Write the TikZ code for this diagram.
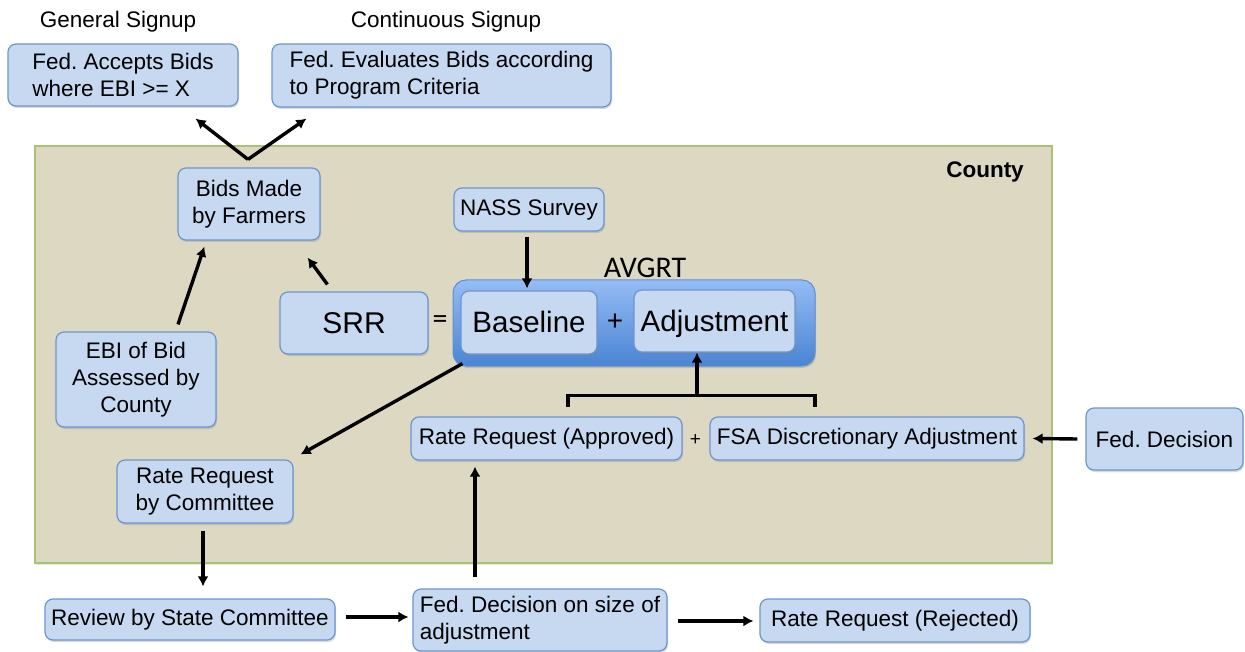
\documentclass[tikz,border=0pt]{standalone}
\usepackage{fontspec}
\setmainfont{Liberation Sans}
\newfontfamily\calfont{Carlito}
\usetikzlibrary{arrows.meta,calc,shadows}
\frenchspacing
\definecolor{boxfill}{HTML}{C6D9F1}
\definecolor{boxline}{HTML}{6D95CD}
\definecolor{countyfill}{HTML}{DDD8C2}
\definecolor{countyline}{HTML}{A6C471}
\definecolor{avtop}{HTML}{95BCF5}
\definecolor{avbot}{HTML}{4A84D3}
\definecolor{avline}{HTML}{5B8FD6}
\tikzset{
 bx/.style={draw=boxline, fill=boxfill, line width=1.2pt, rounded corners=8pt, inner sep=0pt,
   font=\fontsize{22.5}{27}\selectfont,
   drop shadow={shadow xshift=1pt, shadow yshift=-2pt, opacity=.3}},
 big/.style={font=\fontsize{29.5}{34}\selectfont, text height=21pt, text depth=0pt},
 arr/.style={line width=3.4pt, -{Latex[length=10pt,width=11pt]}},
 txt/.style={inner sep=0pt, font=\fontsize{22.5}{27}\selectfont},
}
\begin{document}
\begin{tikzpicture}[x=1pt,y=-1pt]
\useasboundingbox (0,0) rectangle (1245,652);
% top labels
\node[txt] (gen) at (118,22) {General Signup};
\node[txt] (cont) at (446,22) {Continuous Signup};
\node[bx, align=left, minimum width=230pt, minimum height=62pt] (fedacc) at (123,75) {Fed. Accepts Bids\\where EBI >= X};
\node[bx, align=left, minimum width=339pt, minimum height=63pt] (fedeval) at (441.5,75.5) {Fed. Evaluates Bids according\\to Program Criteria};
% county
\node[draw=countyline, fill=countyfill, line width=1.2pt, minimum width=1017pt, minimum height=417pt, inner sep=0pt,
  drop shadow={shadow xshift=1pt, shadow yshift=-2pt, opacity=.2}] (county) at (543.5,354.5) {};
\node[inner sep=0pt, font=\bfseries\fontsize{22.5}{27}\selectfont] (countylbl) at (985,172) {County};
% boxes inside
\node[bx, align=center, minimum width=142pt, minimum height=72pt] (bids) at (249,204) {Bids Made\\by Farmers};
\node[bx, minimum width=150pt, minimum height=43pt] (nass) at (529,209.5) {NASS Survey};
\node[draw=avline, top color=avtop, bottom color=avbot, line width=1pt, rounded corners=13pt, inner sep=0pt,
  minimum width=362pt, minimum height=86pt,
  drop shadow={shadow xshift=1pt, shadow yshift=-2pt, opacity=.3}] (avgrt) at (634,323) {};
\node[inner sep=0pt, font=\calfont\fontsize{30}{34}\selectfont] (avlbl) at (645,268) {AVGRT};
\node[bx, big, minimum width=136pt, minimum height=63pt] (base) at (529,322.5) {Baseline};
\node[bx, big, minimum width=161pt, minimum height=62pt] (adj) at (714.5,321) {Adjustment};
\node[bx, big, font=\fontsize{30}{34}\selectfont, minimum width=148pt, minimum height=62pt] (srr) at (354,323) {SRR};
\node[inner sep=0pt, font=\calfont\fontsize{30}{34}\selectfont] (eq) at (440,322) {=};
\node[inner sep=0pt, font=\calfont\fontsize{30}{34}\selectfont] (plusa) at (615,322) {+};
\node[bx, align=center, minimum width=160pt, minimum height=95pt] (ebi) at (136,379.5) {EBI of Bid\\Assessed by\\County};
\node[bx, minimum width=271pt, minimum height=43pt] (rra) at (546.5,438.5) {Rate Request (Approved)};
\node[txt, font=\fontsize{19}{22}\selectfont] (plusb) at (695.5,440) {+};
\node[bx, minimum width=314pt, minimum height=43pt] (fsa) at (867,438.5) {FSA Discretionary Adjustment};
\node[bx, minimum width=157pt, minimum height=62pt] (feddec) at (1164.5,439) {Fed. Decision};
\node[bx, align=center, minimum width=176pt, minimum height=63pt] (rrc) at (205,491.5) {Rate Request\\by Committee};
\node[bx, minimum width=290pt, minimum height=41pt] (review) at (190,619.5) {Review by State Committee};
\node[bx, align=left, minimum width=254pt, minimum height=62pt] (feddsz) at (540,620) {Fed. Decision on size of\\adjustment};
\node[bx, minimum width=270pt, minimum height=43pt] (rej) at (895,620.5) {Rate Request (Rejected)};
% connectors
\coordinate (apex) at ($(bids.north)+(-1,-8)$);
\draw[arr] (apex) -- ($(fedacc.south east)+(-43,12)$);
\draw[arr] (apex) -- ($(fedeval.south west)+(35,11)$);
\draw[arr] ($(ebi.north)+(42,-7)$) -- ($(bids.south west)+(27,6)$);
\draw[arr] ($(srr.north west)+(48,-7)$) -- ($(bids.south east)+(-13,17)$);
\draw[arr] ($(nass.south)+(-2,5)$) -- ($(base.north)+(-2,-2)$);
\draw[arr] ($(base.south west)+(2,9)$) -- ($(rrc.north east)+(7,-5)$);
\draw[line width=3.4pt] ($(rra.north)+(21.5,-9)$) |- ($(fsa.north)+(-52,-21)$) -- ($(fsa.north)+(-52,-9)$);
\coordinate (brm) at ($(rra.north)+(150.5,-21)$);
\draw[arr] (brm) -- ($(adj.south)+(-17.5,0)$);
\draw[arr] ($(feddec.west)+(-8,0)$) -- ($(fsa.east)+(8,0)$);
\draw[arr] ($(rrc.south)+(-2,7)$) -- ($(review.north)+(13,-12)$);
\draw[arr] ($(review.east)+(10,-2.5)$) -- ($(feddsz.west)+(-4,-3)$);
\draw[arr] ($(feddsz.north)+(-65,-11)$) -- ($(rra.south)+(-71.5,6)$);
\draw[arr] ($(feddsz.east)+(10,1)$) -- ($(rej.west)+(-6,0.5)$);
\end{tikzpicture}
\end{document}
